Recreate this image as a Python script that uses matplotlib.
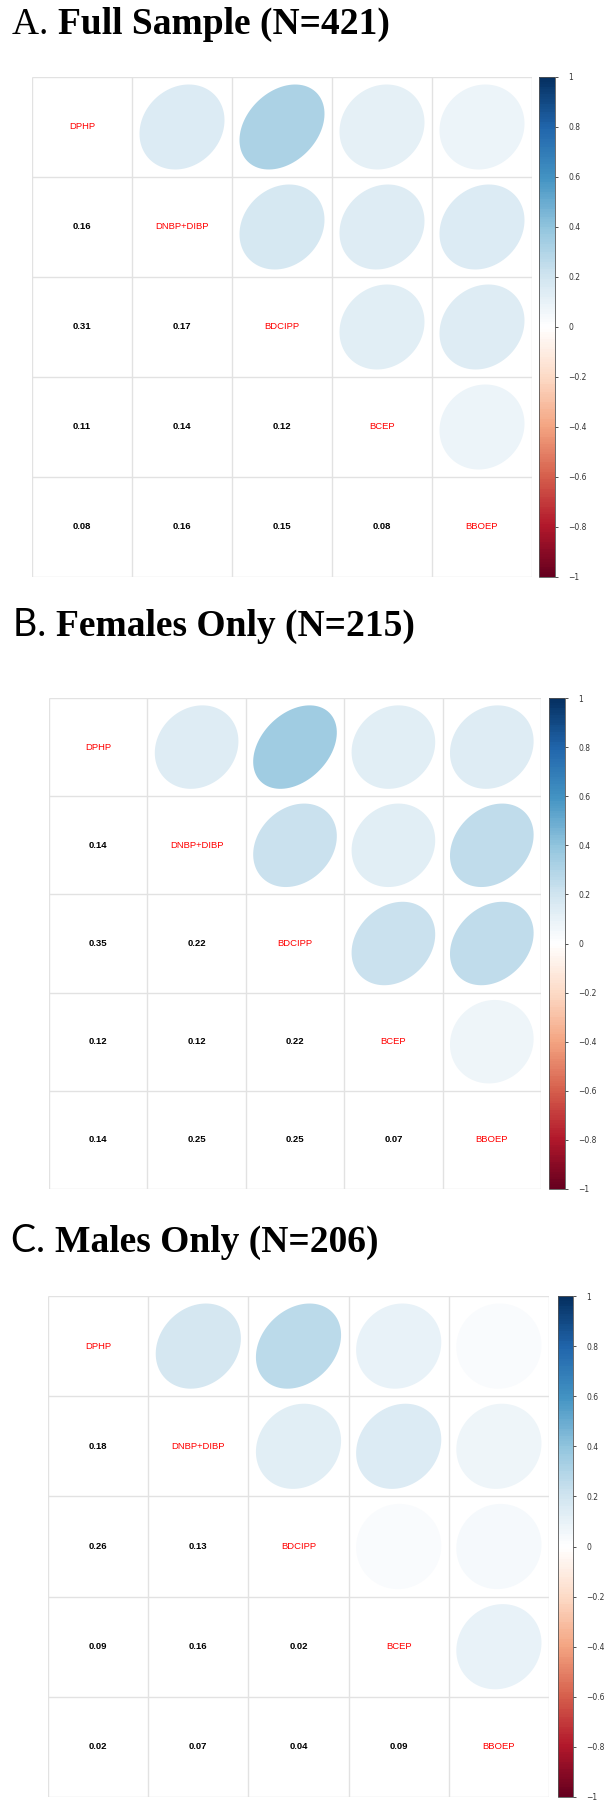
import numpy as np
import matplotlib
matplotlib.use('Agg')
import matplotlib.pyplot as plt
from matplotlib.colors import LinearSegmentedColormap, ListedColormap, Normalize
from matplotlib.patches import Polygon
from matplotlib.cm import ScalarMappable

# variables and lower-triangle correlations (row-wise: r21, r31, r32, r41, ...)
labels = ["DPHP", "DNBP+DIBP", "BDCIPP", "BCEP", "BBOEP"]
r_full = [0.16,
          0.31, 0.17,
          0.11, 0.14, 0.12,
          0.08, 0.16, 0.15, 0.08]
r_female = [0.14,
            0.35, 0.22,
            0.12, 0.12, 0.22,
            0.14, 0.25, 0.25, 0.07]
r_male = [0.18,
          0.26, 0.13,
          0.09, 0.16, 0.02,
          0.02, 0.07, 0.04, 0.09]
titles = [("A. ", "Full Sample (N=421)"),
          ("B. ", "Females Only (N=215)"),
          ("C. ", "Males Only (N=206)")]
cbar_ticks = [1, 0.8, 0.6, 0.4, 0.2, 0, -0.2, -0.4, -0.6, -0.8, -1]

W, H = 610, 1800
# pixel layout: title (x, baseline), grid (l, t, r, b), colorbar (l, r)
layout = [
    dict(title=(12, 34), grid=(32, 77, 532, 577), cbar=(539, 555), prefix_font="Liberation Serif"),
    dict(title=(13, 636), grid=(49, 698, 541, 1189), cbar=(549, 565), prefix_font="Lato"),
    dict(title=(11, 1252), grid=(48, 1296, 549, 1797), cbar=(558, 573), prefix_font="Lato"),
]

rdbu = ["#67001F", "#B2182B", "#D6604D", "#F4A582", "#FDDBC7", "#FFFFFF",
        "#D1E5F0", "#92C5DE", "#4393C3", "#2166AC", "#053061"]
base = LinearSegmentedColormap.from_list("rdbu", rdbu)
cmap = ListedColormap(base(np.linspace(0, 1, 200)))
norm = Normalize(-1, 1)


def px_rect(l, t, r, b):
    return [l / W, 1 - b / H, (r - l) / W, (b - t) / H]


def to_matrix(lower):
    n = len(labels)
    m = np.eye(n)
    k = 0
    for i in range(1, n):
        for j in range(i):
            m[i, j] = m[j, i] = lower[k]
            k += 1
    return m


def ellipse_pts(rho, cx, cy, n=99):
    # same shape as corrplot's ellipse method
    t = np.linspace(0, 2 * np.pi, n)
    a = np.arccos(rho)
    x = 0.85 * np.cos(t + a / 2) / 2
    y = 0.85 * np.cos(t - a / 2) / 2
    return np.column_stack([cx + x, cy - y])


fig = plt.figure(figsize=(W / 100, H / 100), dpi=100)
renderer = fig.canvas.get_renderer()

for (prefix, rest), lay, lower in zip(titles, layout, [r_full, r_female, r_male]):
    mat = to_matrix(lower)
    n = len(labels)

    # title
    tx, ty = lay["title"]
    t1 = fig.text(tx / W, 1 - ty / H, prefix, fontsize=27, family=lay["prefix_font"],
                  va="baseline", ha="left")
    bb = t1.get_window_extent(renderer)
    fig.text(bb.x1 / W, 1 - ty / H, rest, fontsize=27, family="Liberation Serif",
             fontweight="bold", va="baseline", ha="left")

    # matrix
    ax = fig.add_axes(px_rect(*lay["grid"]))
    ax.set_xlim(0.5, n + 0.5)
    ax.set_ylim(n + 0.5, 0.5)
    ax.axis("off")
    for i in range(n):
        for j in range(n):
            cx, cy = j + 1, i + 1
            if i == j:
                ax.text(cx, cy, labels[i], color="red", fontsize=6.8,
                        family="Liberation Sans", ha="center", va="center")
            elif i > j:
                ax.text(cx, cy, "%.2f" % mat[i, j], color="black", fontsize=6.8,
                        family="Liberation Sans", fontweight="bold",
                        ha="center", va="center")
            else:
                ax.add_patch(Polygon(ellipse_pts(mat[i, j], cx, cy),
                                     closed=True, facecolor=cmap(norm(mat[i, j])),
                                     edgecolor="none"))
    edges = np.arange(n + 1) + 0.5
    ax.vlines(edges, 0.5, n + 0.5, color="#e2e2e2", lw=1.0, zorder=0)
    ax.hlines(edges, 0.5, n + 0.5, color="#e2e2e2", lw=1.0, zorder=0)

    # colour legend
    gl, gt, gr, gb = lay["grid"]
    cl, cr = lay["cbar"]
    cax = fig.add_axes(px_rect(cl, gt, cr, gb))
    cb = fig.colorbar(ScalarMappable(norm=norm, cmap=cmap), cax=cax)
    cb.set_ticks(cbar_ticks)
    cb.set_ticklabels([("%g" % v).replace("-", "\u2212") for v in cbar_ticks])
    cb.outline.set_linewidth(0.6)
    cb.outline.set_edgecolor("#555555")
    cax.tick_params(labelsize=5.5, length=2.5, width=0.6, pad=7, colors="#333333")

fig.savefig("out.png", dpi=100)
